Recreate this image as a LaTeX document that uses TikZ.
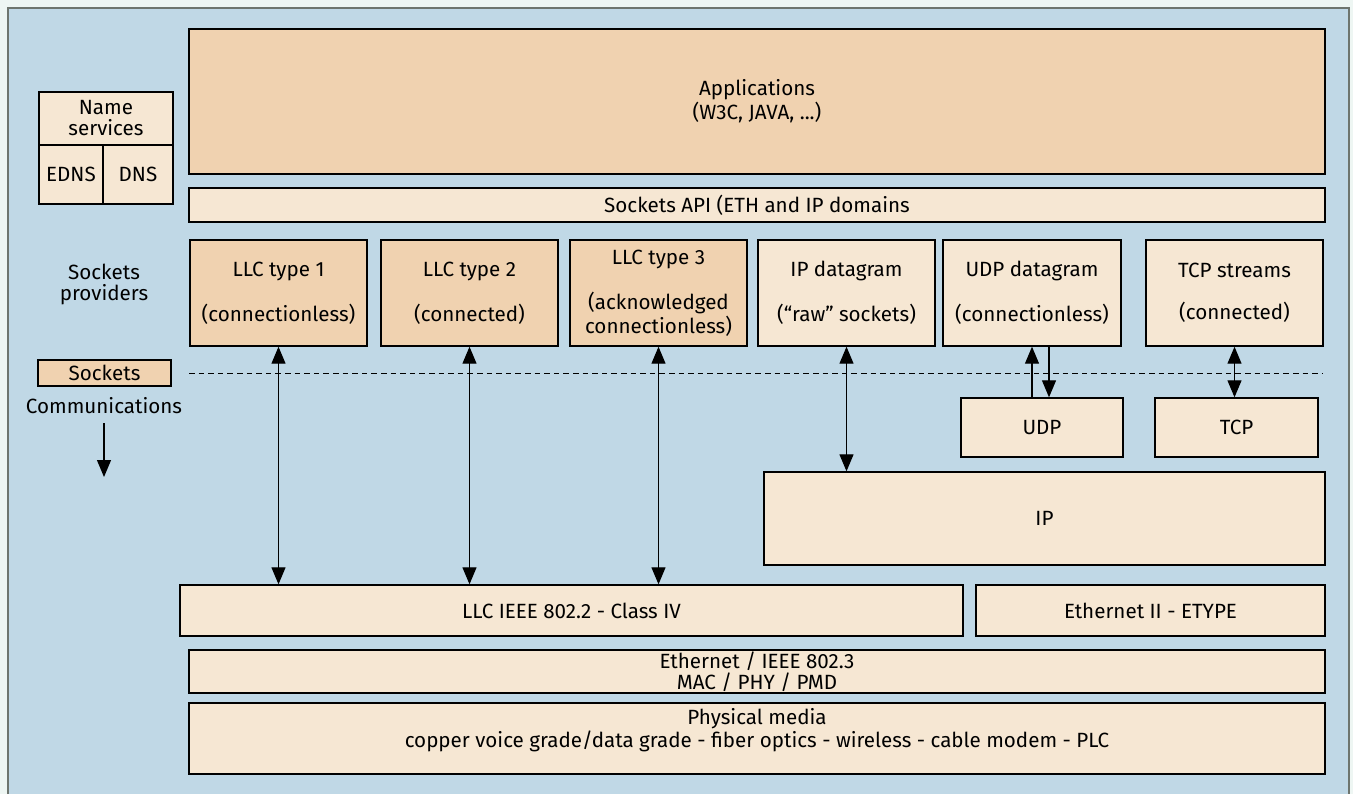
\documentclass[tikz,border=0pt]{standalone}
\usepackage{fontspec}
\setmainfont{Fira Sans}
\usetikzlibrary{arrows.meta}
\definecolor{pagebg}{HTML}{EEF6F3}
\definecolor{panel}{HTML}{C0D8E6}
\definecolor{edge}{HTML}{6E756E}
\definecolor{dark}{HTML}{F0D2B0}
\definecolor{light}{HTML}{F6E7D3}
\begin{document}
\begin{tikzpicture}[x=0.5pt,y=-0.5pt,font=\fontsize{10.3}{10.5}\selectfont]
	\fill[pagebg] (0,0) rectangle (1353,794);
	\useasboundingbox (0,0) rectangle (1353,794);
	\fill[panel] (8,8) rectangle (1349,794);
	\draw[edge,line width=1pt] (8,794) -- (8,8) -- (1349,8) -- (1349,794);
	\begin{scope}[every node/.style={draw,line width=0.7pt,align=center,inner sep=0pt,fill=light}]
		% upper layers
		\node[fill=dark,minimum width=568pt,minimum height=72.5pt] (app) at (757,101.5) {Applications\\(W3C, JAVA, ...)};
		\node[minimum width=568pt,minimum height=17pt] (api) at (757,205) {Sockets API (ETH and IP domains};
		\node[minimum width=67pt,minimum height=26.5pt] (names) at (106,118.5) {Name\\services};
		\node[minimum width=32pt,minimum height=29.5pt] (edns) at (71,174.5) {EDNS};
		\node[minimum width=35pt,minimum height=29.5pt] (dns) at (138,174.5) {DNS};
		% socket providers
		\node[fill=dark,minimum width=88.5pt,minimum height=53pt] (llc1) at (278.5,293) {LLC type 1\\[10.5pt](connectionless)};
		\node[fill=dark,minimum width=88.5pt,minimum height=53pt] (llc2) at (469.5,293) {LLC type 2\\[10.5pt](connected)};
		\node[fill=dark,minimum width=88.5pt,minimum height=53pt] (llc3) at (658.5,293) {LLC type 3\\[10.5pt](acknowledged\\connectionless)};
		\node[minimum width=88.5pt,minimum height=53pt] (ipd) at (846.5,293) {IP datagram\\[10.5pt](``raw'' sockets)};
		\node[minimum width=89pt,minimum height=53pt] (udpd) at (1032,293) {UDP datagram\\[10.5pt](connectionless)};
		\node[minimum width=88.5pt,minimum height=53pt] (tcps) at (1234.5,293) {TCP streams\\[10.5pt](connected)};
		\node[fill=dark,minimum width=66.5pt,minimum height=13pt] (sockets) at (104.5,373) {Sockets};
		% protocols
		\node[minimum width=81pt,minimum height=29.5pt] (udp) at (1042,427.5) {UDP};
		\node[minimum width=81.5pt,minimum height=29.5pt] (tcp) at (1236.5,427.5) {TCP};
		\node[minimum width=280.5pt,minimum height=46.5pt] (ip) at (1044.5,518.5) {IP};
		\node[minimum width=391.5pt,minimum height=25.5pt] (llc) at (571.5,610.5) {LLC IEEE 802.2 - Class IV};
		\node[minimum width=174.5pt,minimum height=25.5pt] (eth2) at (1150.5,610.5) {Ethernet II - ETYPE};
		\node[minimum width=568pt,minimum height=21.5pt] (eth) at (757,671.5) {Ethernet / IEEE 802.3\\MAC / PHY / PMD};
		\node[minimum width=568pt,minimum height=35.5pt] (phys) at (757,738.5) {Physical media\\copper voice grade/data grade - fiber optics - wireless - cable modem - PLC\\[0pt]};
	\end{scope}

	\node[align=center] (prov) at (104,284) {Sockets\\providers};
	\node (comm) at (104,406) {Communications};
	\coordinate (down) at (104,477);
	\coordinate (dashl) at (189,373);
	\coordinate (dashr) at (1323,373);
	\draw[line width=0.5pt,dash pattern=on 2.8pt off 2pt] (dashl) -- (dashr);

	\begin{scope}[>={Triangle[length=8.5pt,width=7pt]},line width=0.6pt]
		\draw[->] (comm.south) ++(0,2) -- (down);
		\draw[<->] (llc1.south) -- (llc1.south |- llc.north);
		\draw[<->] (llc2.south) -- (llc2.south |- llc.north);
		\draw[<->] (llc3.south) -- (llc3.south |- llc.north);
		\draw[<->] (ipd.south) -- (ipd.south |- ip.north);
		\draw[->] ([xshift=-5pt]udp.north) -- ([xshift=-5pt]udp.north |- udpd.south);
		\draw[->] ([xshift=3.5pt]udp.north |- udpd.south) -- ([xshift=3.5pt]udp.north);
		\draw[<->] (tcps.south) -- (tcps.south |- tcp.north);
	\end{scope}
\end{tikzpicture}
\end{document}
